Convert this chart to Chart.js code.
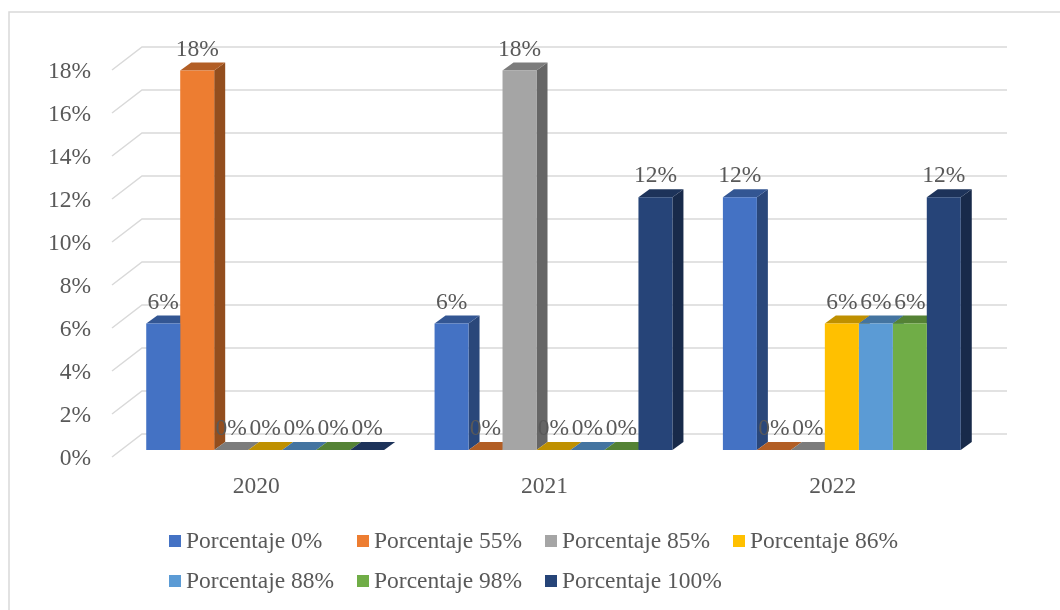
<!DOCTYPE html>
<html>
<head>
<meta charset="utf-8">
<script src="https://cdn.jsdelivr.net/npm/chart.js@4/dist/chart.umd.min.js"></script>
<style>
  html, body { margin: 0; padding: 0; background: #fff; }
  #wrap { width: 1060px; height: 610px; position: relative; }
</style>
</head>
<body>
<div id="wrap"><canvas id="grafico" width="1060" height="610"></canvas></div>
<script>
// datos (porcentaje por año)
const anios = ['2020', '2021', '2022'];
const series = ['Porcentaje 0%', 'Porcentaje 55%', 'Porcentaje 85%', 'Porcentaje 86%',
                'Porcentaje 88%', 'Porcentaje 98%', 'Porcentaje 100%'];
const p0   = [5.88, 5.88, 11.76];
const p55  = [17.65, 0, 0];
const p85  = [0, 17.65, 0];
const p86  = [0, 0, 5.88];
const p88  = [0, 0, 5.88];
const p98  = [0, 0, 5.88];
const p100 = [0, 11.76, 11.76];
const valores = [p0, p55, p85, p86, p88, p98, p100];
const colores = ['#4472C4', '#ED7D31', '#A5A5A5', '#FFC000', '#5B9BD5', '#70AD47', '#264478'];
const ejeMax = 18;
const ejePaso = 2;

// profundidad 3D
const FONDO = { dx: 30, dy: -23 };   // pared del fondo respecto al frente
const FRENTE = { dx: -9, dy: 7 };    // plano de ejes respecto a las barras
const BARRA = { dx: 11, dy: -8 };    // profundidad de cada barra
const gris = '#595959';
const letra = '23.5px "Liberation Serif"';

function oscurecer(hex, f) {
  let n = parseInt(hex.slice(1), 16);
  let r = Math.round(((n >> 16) & 255) * f);
  let g = Math.round(((n >> 8) & 255) * f);
  let b = Math.round((n & 255) * f);
  return 'rgb(' + r + ',' + g + ',' + b + ')';
}

function poligono(ctx, pts, color) {
  ctx.beginPath();
  ctx.moveTo(pts[0][0], pts[0][1]);
  for (let i = 1; i < pts.length; i++) ctx.lineTo(pts[i][0], pts[i][1]);
  ctx.closePath();
  ctx.fillStyle = color;
  ctx.fill();
}

// rejilla, caras laterales y superiores
const caras3d = {
  id: 'caras3d',
  beforeDatasetsDraw(chart) {
    const ctx = chart.ctx;
    const y = chart.scales.y;
    const area = chart.chartArea;
    ctx.save();
    ctx.strokeStyle = '#d9d9d9';
    ctx.lineWidth = 1.5;
    for (let v = 0; v <= ejeMax; v += ejePaso) {
      let py = y.getPixelForValue(v);
      let fx = area.left + FRENTE.dx, fy = py + FRENTE.dy;
      let bx = fx + FONDO.dx, by = fy + FONDO.dy;
      ctx.beginPath();
      ctx.moveTo(fx, fy);
      ctx.lineTo(bx, by);
      ctx.lineTo(area.right + FRENTE.dx + FONDO.dx, by);
      ctx.stroke();
    }
    // de izquierda a derecha para que tapen bien
    for (let c = 0; c < anios.length; c++) {
      for (let d = 0; d < valores.length; d++) {
        let bar = chart.getDatasetMeta(d).data[c];
        let l = bar.x - bar.width / 2, r = bar.x + bar.width / 2;
        let top = bar.y, base = bar.base;
        poligono(ctx, [[r, top], [r + BARRA.dx, top + BARRA.dy], [r + BARRA.dx, base + BARRA.dy], [r, base]],
          oscurecer(colores[d], 0.62));
        poligono(ctx, [[l, top], [l + BARRA.dx, top + BARRA.dy], [r + BARRA.dx, top + BARRA.dy], [r, top]],
          oscurecer(colores[d], 0.75));
      }
    }
    ctx.restore();
  }
};

// etiquetas de datos y leyenda
const etiquetas = {
  id: 'etiquetas',
  afterDatasetsDraw(chart) {
    const ctx = chart.ctx;
    ctx.save();
    ctx.font = letra;
    ctx.fillStyle = gris;
    ctx.textAlign = 'center';
    ctx.textBaseline = 'alphabetic';
    for (let d = 0; d < valores.length; d++) {
      chart.getDatasetMeta(d).data.forEach(function(bar, i) {
        ctx.fillText(Math.round(valores[d][i]) + '%', bar.x, bar.y - 15);
      });
    }
    // leyenda en columnas fijas
    ctx.textAlign = 'left';
    ctx.textBaseline = 'middle';
    for (let d = 0; d < series.length; d++) {
      let fila = d < 4 ? 0 : 1;
      let col = d < 4 ? d : d - 4;
      let x = 169 + col * 188;
      let yy = fila === 0 ? 541 : 581;
      ctx.fillStyle = colores[d];
      ctx.fillRect(x, yy - 6, 12, 12);
      ctx.fillStyle = gris;
      ctx.fillText(series[d], x + 17, yy + 1);
    }
    // marco
    ctx.strokeStyle = '#d9d9d9';
    ctx.lineWidth = 1.5;
    ctx.beginPath();
    ctx.moveTo(9, 610);
    ctx.lineTo(9, 12);
    ctx.lineTo(1060, 12);
    ctx.stroke();
    ctx.restore();
  }
};

Chart.defaults.font.family = '"Liberation Serif", "Times New Roman", serif';
Chart.defaults.font.size = 23.5;
Chart.defaults.color = gris;

new Chart(document.getElementById('grafico'), {
  type: 'bar',
  data: {
    labels: anios,
    datasets: series.map(function(s, i) {
      return {
        label: s,
        data: valores[i],
        backgroundColor: colores[i],
        borderWidth: 0,
        categoryPercentage: 0.825,
        barPercentage: 1
      };
    })
  },
  options: {
    responsive: false,
    animation: false,
    layout: { padding: { top: 63, right: 74, bottom: 0, left: 0 } },
    plugins: {
      legend: { display: false },
      tooltip: { enabled: false }
    },
    scales: {
      x: {
        grid: { display: false },
        border: { display: false },
        ticks: { padding: 15, labelOffset: -9 },
        afterFit: function(s) { s.height = 160; }
      },
      y: {
        min: 0,
        max: ejeMax,
        grid: { display: false, drawTicks: false },
        border: { display: false },
        ticks: {
          stepSize: ejePaso,
          padding: 30,
          labelOffset: 9,
          callback: function(v) { return v + '%'; }
        },
        afterFit: function(s) { s.width = 121; }
      }
    }
  },
  plugins: [caras3d, etiquetas]
});
</script>
</body>
</html>
